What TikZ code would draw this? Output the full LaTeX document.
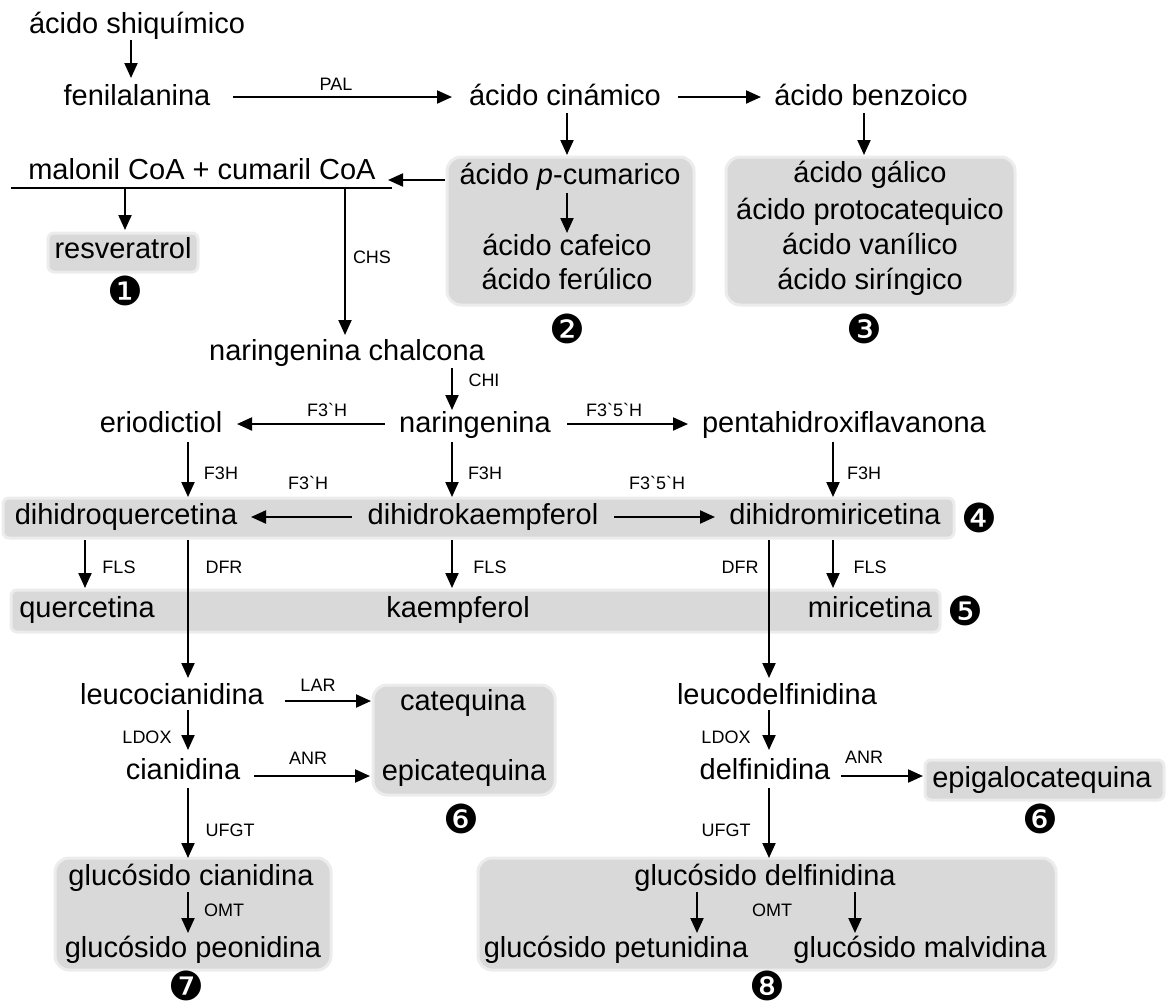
\documentclass[tikz,border=0pt]{standalone}
\usepackage{fontspec}
\setmainfont{Liberation Sans}
\newfontfamily\numfont{DejaVu Sans}
\usetikzlibrary{arrows.meta,calc}
\definecolor{boxgray}{RGB}{217,217,217}
\definecolor{glowgray}{RGB}{236,236,236}
\begin{document}
\begin{tikzpicture}[x=1pt,y=-1pt,
  txt/.style={font=\fontsize{29}{32}\selectfont, inner sep=0pt, outer sep=0pt, text height=20pt, text depth=6pt},
  lbl/.style={font=\fontsize{18}{20}\selectfont, inner sep=0pt},
  num/.style={font=\numfont\fontsize{40}{44}\selectfont, inner sep=0pt, text height=30pt, text depth=0pt},
  arr/.style={-{Triangle[length=15pt,width=13pt]}, line width=2.1pt},
  plain/.style={line width=2.1pt},
  gbox/.style={fill=boxgray, draw=glowgray, line width=3pt, rounded corners=#1, inner sep=0pt, outer sep=0pt},
  gbox/.default=14pt]
\useasboundingbox (0,0) rectangle (1168,1007);
% grey boxes
\node[gbox=6pt, minimum width=150pt, minimum height=39pt] (box1) at (123,252.5) {};
\node[gbox, minimum width=247pt, minimum height=148pt] (box2) at (570.5,231) {};
\node[gbox, minimum width=289pt, minimum height=148pt] (box3) at (870.5,231) {};
\node[gbox=6pt, minimum width=951pt, minimum height=40pt] (box4) at (478.5,518) {};
\node[gbox=6pt, minimum width=929pt, minimum height=42pt] (box5) at (475.5,611) {};
\node[gbox, minimum width=182pt, minimum height=110pt] (box6) at (464,740) {};
\node[gbox=6pt, minimum width=239pt, minimum height=40pt] (box6b) at (1044.5,780) {};
\node[gbox, minimum width=276pt, minimum height=112pt] (box7) at (193,914) {};
\node[gbox, minimum width=578pt, minimum height=112pt] (box8) at (767,914) {};
% texts
\node[txt] (shiq) at (137,26) {ácido shiquímico};
\node[txt] (fenil) at (137,98) {fenilalanina};
\node[txt] (cin) at (565,98) {ácido cinámico};
\node[txt] (benz) at (871,98) {ácido benzoico};
\node[txt] (mal) at (202,172) {malonil CoA + cumaril CoA};
\node[txt] (resv) at (123,251) {resveratrol};
\node[txt] (pcum) at (570,177) {ácido \textit{p}-cumarico};
\node[txt] (caf) at (567,248) {ácido cafeico};
\node[txt] (fer) at (567,282) {ácido ferúlico};
\node[txt] (gal) at (870,175) {ácido gálico};
\node[txt] (proto) at (870,212) {ácido protocatequico};
\node[txt] (van) at (870,247) {ácido vanílico};
\node[txt] (sir) at (870,282) {ácido siríngico};
\node[txt] (chalc) at (347,353) {naringenina chalcona};
\node[txt] (erio) at (161,425) {eriodictiol};
\node[txt] (nar) at (475,425) {naringenina};
\node[txt] (penta) at (844,425) {pentahidroxiflavanona};
\node[txt] (dhq) at (126,517) {dihidroquercetina};
\node[txt] (dhk) at (483,517) {dihidrokaempferol};
\node[txt] (dhm) at (835,517) {dihidromiricetina};
\node[txt] (querc) at (87,610) {quercetina};
\node[txt] (kaemp) at (458,610) {kaempferol};
\node[txt] (miric) at (870,610) {miricetina};
\node[txt] (leucc) at (172,697) {leucocianidina};
\node[txt] (cat) at (463,703) {catequina};
\node[txt] (cian) at (183,772) {cianidina};
\node[txt] (epicat) at (464,773) {epicatequina};
\node[txt] (leucd) at (777,697) {leucodelfinidina};
\node[txt] (delf) at (765,772) {delfinidina};
\node[txt] (epigal) at (1042,780) {epigalocatequina};
\node[txt] (gcian) at (191,878) {glucósido cianidina};
\node[txt] (gpeo) at (193,950) {glucósido peonidina};
\node[txt] (gdelf) at (765,878) {glucósido delfinidina};
\node[txt] (gpet) at (616,950) {glucósido petunidina};
\node[txt] (gmal) at (920,950) {glucósido malvidina};
% numbers
\node[num] (n1) at (125,290) {❶};
\node[num] (n2) at (567,328) {❷};
\node[num] (n3) at (864,328) {❸};
\node[num] (n4) at (979,517) {❹};
\node[num] (n5) at (965,610) {❺};
\node[num] (n6) at (461,818) {❻};
\node[num] (n6b) at (1040,818) {❻};
\node[num] (n7) at (186,985) {❼};
\node[num] (n8) at (767,985) {❽};
% enzyme labels
\node[lbl] (lPAL) at (336,84) {PAL};
\node[lbl] (lCHS) at (372,257) {CHS};
\node[lbl] (lCHI) at (484,380) {CHI};
\node[lbl] (lF3Ha) at (327,410) {F3\textasciigrave H};
\node[lbl] (lF35Ha) at (614,410) {F3\textasciigrave 5\textasciigrave H};
\node[lbl] (lF3Hb) at (221,473) {F3H};
\node[lbl] (lF3Hc) at (485,473) {F3H};
\node[lbl] (lF3Hd) at (864,473) {F3H};
\node[lbl] (lF3Hp) at (308,483) {F3\textasciigrave H};
\node[lbl] (lF35Hp) at (657,483) {F3\textasciigrave 5\textasciigrave H};
\node[lbl] (lFLSa) at (119,567) {FLS};
\node[lbl] (lDFRa) at (224,567) {DFR};
\node[lbl] (lFLSb) at (490,567) {FLS};
\node[lbl] (lDFRb) at (740,567) {DFR};
\node[lbl] (lFLSc) at (870,567) {FLS};
\node[lbl] (lLAR) at (318,685) {LAR};
\node[lbl] (lLDOXa) at (147,737) {LDOX};
\node[lbl] (lANRa) at (308,758) {ANR};
\node[lbl] (lUFGTa) at (230,830) {UFGT};
\node[lbl] (lOMTa) at (224,910) {OMT};
\node[lbl] (lLDOXb) at (726,737) {LDOX};
\node[lbl] (lANRb) at (864,757) {ANR};
\node[lbl] (lUFGTb) at (726,830) {UFGT};
\node[lbl] (lOMTb) at (772,910) {OMT};
% connectors
\draw[arr] ($(shiq)+(-6,14)$) -- ($(fenil)+(-6,-20)$);
\draw[arr] ($(fenil)+(96,-1)$) -- ($(cin)+(-113,-1)$);
\draw[arr] ($(cin)+(113,-1)$) -- ($(benz)+(-110,-1)$);
\draw[arr] ($(cin)+(2,15)$) -- ($(box2.north)+(-3.5,-2)$);
\draw[arr] ($(benz)+(-7,15)$) -- ($(box3.north)+(-6.5,-2)$);
\draw[arr] ($(box2.north west)+(-2,23)$) -- ($(mal)+(186,8)$);
\draw[plain] ($(mal)+(-191,16)$) -- ($(mal)+(190,16)$);
\draw[arr] ($(mal)+(-77,16)$) -- ($(box1.north)+(2,-3)$);
\draw[arr] ($(mal)+(143,16)$) -- ($(chalc)+(-2,-18)$);
\draw[arr] ($(pcum)+(-3,16)$) -- ($(caf)+(0,-15)$);
\draw[arr] ($(chalc)+(105,15)$) -- ($(nar)+(-23,-15)$);
\draw[arr] ($(nar)+(-90,-1)$) -- ($(erio)+(76,-1)$);
\draw[arr] ($(nar)+(92,-1)$) -- ($(penta)+(-156,-1)$);
\draw[arr] ($(erio)+(27,17)$) -- ($(dhq)+(62,-20)$);
\draw[arr] ($(nar)+(-23,17)$) -- ($(dhk)+(-31,-20)$);
\draw[arr] ($(penta)+(-11,17)$) -- ($(dhm)+(-2,-20)$);
\draw[arr] ($(dhk)+(-131,0)$) -- ($(dhq)+(125,0)$);
\draw[arr] ($(dhk)+(131,0)$) -- ($(dhm)+(-120,0)$);
\draw[arr] ($(dhq)+(-41,23)$) -- ($(querc)+(-2,-22)$);
\draw[arr] ($(dhq)+(62,23)$) -- ($(leucc)+(16,-19)$);
\draw[arr] ($(dhk)+(-31,23)$) -- ($(kaemp)+(-6,-22)$);
\draw[arr] ($(dhm)+(-66,23)$) -- ($(leucd)+(-8,-19)$);
\draw[arr] ($(dhm)+(-2,23)$) -- ($(miric)+(-37,-22)$);
\draw[arr] ($(leucc)+(113,4)$) -- ($(cat)+(-92,-2)$);
\draw[arr] ($(leucc)+(16,13)$) -- ($(cian)+(5,-22)$);
\draw[arr] ($(cian)+(71,4)$) -- ($(epicat)+(-94,3)$);
\draw[arr] ($(cian)+(5,16)$) -- ($(gcian)+(-3,-20)$);
\draw[arr] ($(gcian)+(-3,14)$) -- ($(gpeo)+(-5,-17)$);
\draw[arr] ($(leucd)+(-8,13)$) -- ($(delf)+(4,-22)$);
\draw[arr] ($(delf)+(76,4)$) -- ($(epigal)+(-119,-4)$);
\draw[arr] ($(delf)+(4,16)$) -- ($(gdelf)+(4,-20)$);
\draw[arr] ($(gdelf)+(-68,14)$) -- ($(gpet)+(81,-17)$);
\draw[arr] ($(gdelf)+(90,14)$) -- ($(gmal)+(-65,-17)$);
\end{tikzpicture}
\end{document}
